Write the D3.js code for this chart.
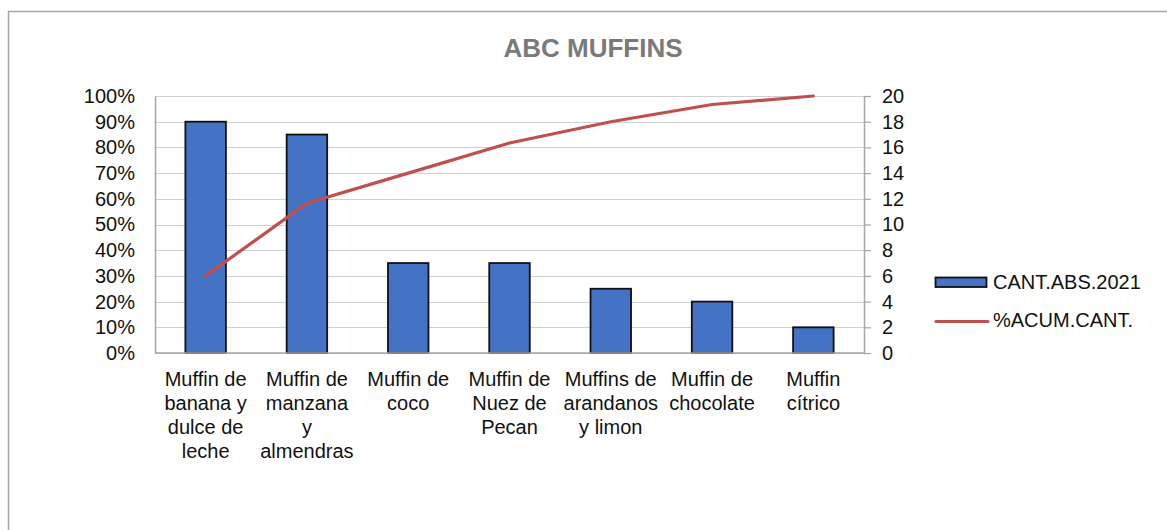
<!DOCTYPE html>
<html>
<head>
<meta charset="utf-8">
<script src="https://cdn.jsdelivr.net/npm/d3@7"></script>
<style>
  html, body { margin: 0; padding: 0; background: #fff; }
  svg { display: block; font-family: Arial, "Liberation Sans", sans-serif; }
</style>
</head>
<body>
<svg id="chart" width="1167" height="530"></svg>
<script>
// Product categories (line breaks as they wrap under each bar)
const categories = [
  "Muffin de\nbanana y\ndulce de\nleche",
  "Muffin de\nmanzana\ny\nalmendras",
  "Muffin de\ncoco",
  "Muffin de\nNuez de\nPecan",
  "Muffins de\narandanos\ny limon",
  "Muffin de\nchocolate",
  "Muffin\ncítrico"
];
// Units sold in 2021
const cantAbs = [18, 17, 7, 7, 5, 4, 2];
// Cumulative share of units
const acumCant = [0.30, 0.583, 0.70, 0.817, 0.90, 0.967, 1.00];
// Axis ticks
const pctTicks = [0, 0.1, 0.2, 0.3, 0.4, 0.5, 0.6, 0.7, 0.8, 0.9, 1.0];
const cntTicks = [0, 2, 4, 6, 8, 10, 12, 14, 16, 18, 20];

const seriesNames = ["CANT.ABS.2021", "%ACUM.CANT."];
const title = "ABC MUFFINS";

const FS = 20;
const svg = d3.select("#chart");
const plot = { left: 155, right: 864, top: 96, bottom: 353 };

const x = d3.scaleBand()
  .domain(categories)
  .range([plot.left, plot.right])
  .paddingInner(0.6)
  .paddingOuter(0.3);
const yL = d3.scaleLinear().domain([0, 1]).range([plot.bottom, plot.top]);
const yR = d3.scaleLinear().domain([0, 20]).range([plot.bottom, plot.top]);

// Chart frame
svg.append("rect")
  .attr("x", 8.5).attr("y", 11.5)
  .attr("width", 1170).attr("height", 530)
  .attr("fill", "none").attr("stroke", "#a6a6a6").attr("stroke-width", 1.5);

// Title
svg.append("text")
  .attr("x", 593).attr("y", 57)
  .attr("text-anchor", "middle")
  .attr("font-size", 26).attr("font-weight", "bold")
  .attr("fill", "#7a7a7a")
  .text(title);

// Gridlines
svg.append("g")
  .selectAll("line")
  .data(pctTicks)
  .join("line")
  .attr("x1", plot.left).attr("x2", plot.right)
  .attr("y1", d => Math.round(yL(d)) + 0.5).attr("y2", d => Math.round(yL(d)) + 0.5)
  .attr("stroke", "#d0d0d0").attr("stroke-width", 1.2);

// Left axis (percent)
const leftAxis = svg.append("g")
  .attr("transform", `translate(${plot.left},0)`)
  .call(d3.axisLeft(yL).tickValues(pctTicks).tickSize(0).tickPadding(20)
    .tickFormat(d3.format(".0%")));
leftAxis.select(".domain").attr("stroke", "#a6a6a6").attr("stroke-width", 1.5);
leftAxis.selectAll("text").attr("font-size", FS).attr("fill", "#111")
  .attr("font-family", "Arial, 'Liberation Sans', sans-serif");

// Right axis (count)
const rightAxis = svg.append("g")
  .attr("transform", `translate(${plot.right},0)`)
  .call(d3.axisRight(yR).tickValues(cntTicks).tickSize(7).tickPadding(11)
    .tickSizeOuter(0));
rightAxis.select(".domain").attr("stroke", "#a6a6a6").attr("stroke-width", 1.5);
rightAxis.selectAll(".tick line").attr("stroke", "#a6a6a6").attr("stroke-width", 1.2);
rightAxis.selectAll("text").attr("font-size", FS).attr("fill", "#111")
  .attr("font-family", "Arial, 'Liberation Sans', sans-serif");

// Bars
svg.append("g")
  .selectAll("rect")
  .data(cantAbs)
  .join("rect")
  .attr("x", (d, i) => x(categories[i]))
  .attr("y", d => yR(d))
  .attr("width", x.bandwidth())
  .attr("height", d => yR(0) - yR(d))
  .attr("fill", "#4472C4")
  .attr("stroke", "#111").attr("stroke-width", 1.8);

// Bottom axis line
svg.append("line")
  .attr("x1", plot.left).attr("x2", plot.right)
  .attr("y1", plot.bottom).attr("y2", plot.bottom)
  .attr("stroke", "#a6a6a6").attr("stroke-width", 1.5);

// Category labels
const catG = svg.append("g");
categories.forEach(c => {
  const cx = x(c) + x.bandwidth() / 2;
  const t = catG.append("text")
    .attr("text-anchor", "middle")
    .attr("font-size", FS).attr("fill", "#111");
  c.split("\n").forEach((ln, k) => {
    t.append("tspan").attr("x", cx).attr("y", 386 + k * 24).text(ln);
  });
});

// Cumulative line
const line = d3.line()
  .x((d, i) => x(categories[i]) + x.bandwidth() / 2)
  .y(d => yL(d));
svg.append("path")
  .datum(acumCant)
  .attr("d", line)
  .attr("fill", "none")
  .attr("stroke", "#C0504D").attr("stroke-width", 3.2)
  .attr("stroke-linecap", "round");

// Legend
const lg = svg.append("g");
lg.append("rect")
  .attr("x", 935.5).attr("y", 277.5).attr("width", 51).attr("height", 9.5)
  .attr("fill", "#4472C4").attr("stroke", "#111").attr("stroke-width", 1.8);
lg.append("text")
  .attr("x", 993).attr("y", 289).attr("font-size", FS).attr("fill", "#111")
  .text(seriesNames[0]);
lg.append("line")
  .attr("x1", 936).attr("x2", 988).attr("y1", 321.5).attr("y2", 321.5)
  .attr("stroke", "#C0504D").attr("stroke-width", 3.2).attr("stroke-linecap", "round");
lg.append("text")
  .attr("x", 993).attr("y", 327).attr("font-size", FS).attr("fill", "#111")
  .text(seriesNames[1]);
</script>
</body>
</html>
